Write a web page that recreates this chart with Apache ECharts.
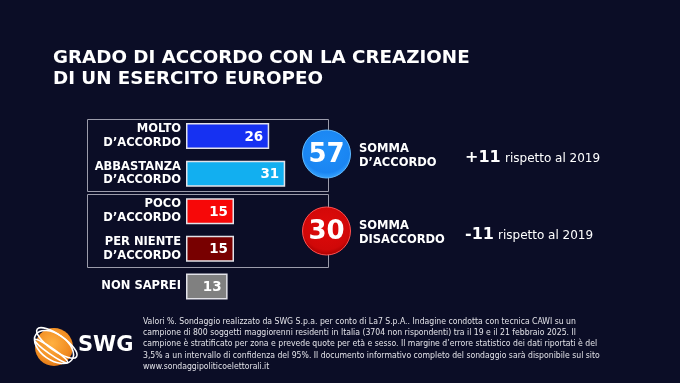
<!DOCTYPE html>
<html><head><meta charset="utf-8">
<script src="https://cdn.jsdelivr.net/npm/echarts@6/dist/echarts.min.js"></script>
<style>html,body{margin:0;padding:0;background:#0b0d26;}#c{width:680px;height:383px;}</style>
</head><body><div id="c"></div>
<script>
const titleLines = ['GRADO DI ACCORDO CON LA CREAZIONE', 'DI UN ESERCITO EUROPEO'];
const categories = ['MOLTO\nD’ACCORDO', 'ABBASTANZA\nD’ACCORDO', 'POCO\nD’ACCORDO', 'PER NIENTE\nD’ACCORDO', 'NON SAPREI'];
const values = [26, 31, 15, 15, 13];
const sumLabels = ['SOMMA\nD’ACCORDO', 'SOMMA\nDISACCORDO'];
const sums = [57, 30];
const changes = ['+11', '-11'];
const changeNote = 'rispetto al 2019';
const footerLines = [
  'Valori %. Sondaggio realizzato da SWG S.p.a. per conto di La7 S.p.A.. Indagine condotta con tecnica CAWI su un',
  'campione di 800 soggetti maggiorenni residenti in Italia (3704 non rispondenti) tra il 19 e il 21 febbraio 2025. Il',
  'campione è stratificato per zona e prevede quote per età e sesso. Il margine d’errore statistico dei dati riportati è del',
  '3,5% a un intervallo di confidenza del 95%. Il documento informativo completo del sondaggio sarà disponibile sul sito',
  'www.sondaggipoliticoelettorali.it'
];

const barColors = ['#1631f2', '#12aff0', '#f70808', '#780000', '#808080'];
const F = '"DejaVu Sans", Verdana, sans-serif';

const chart = echarts.init(document.getElementById('c'));
const graphic = [];
// title
titleLines.forEach((t, i) => graphic.push({type:'text', left:53, top:49 + i*21.5, style:{text:t, fill:'#ffffff', font:'bold 18.3px ' + F}}));
// boxes
graphic.push({type:'rect', shape:{x:87.5, y:119.5, width:241, height:72}, style:{fill:'none', stroke:'#9c9cab', lineWidth:1}});
graphic.push({type:'rect', shape:{x:87.5, y:194.5, width:241, height:73}, style:{fill:'none', stroke:'#9c9cab', lineWidth:1}});
// sum circles and texts
const circleY = [154, 231];
const grads = [
  {type:'radial', x:0.5, y:0.4, r:0.6, colorStops:[{offset:0, color:'#1f8ff8'}, {offset:0.8, color:'#1a85f2'}, {offset:1, color:'#3aa6ff'}]},
  {type:'radial', x:0.5, y:0.4, r:0.6, colorStops:[{offset:0, color:'#e00a0a'}, {offset:0.8, color:'#d00808'}, {offset:1, color:'#a80000'}]}
];
const strokes = ['#5db8ff', '#ff5050'];
sums.forEach((s, i) => {
  graphic.push({type:'circle', shape:{cx:326.5, cy:circleY[i], r:24}, style:{fill:grads[i], stroke:strokes[i], lineWidth:1}});
  graphic.push({type:'text', x:326.5, y:circleY[i]+1, style:{text:String(s), fill:'#ffffff', font:'bold 26px ' + F, align:'center', verticalAlign:'middle'}});
  graphic.push({type:'text', x:359, y:circleY[i]+2, style:{text:sumLabels[i], fill:'#ffffff', font:'bold 11.5px ' + F, lineHeight:14, verticalAlign:'middle'}});
  graphic.push({type:'text', x:465, y:circleY[i]+4, style:{text:changes[i], fill:'#ffffff', font:'bold 16px ' + F, verticalAlign:'middle'}});
  graphic.push({type:'text', x:[505, 498][i], y:circleY[i]+5, style:{text:changeNote, fill:'#ffffff', font:'12px ' + F, verticalAlign:'middle'}});
});
// logo
graphic.push({type:'circle', shape:{cx:54, cy:347, r:19}, style:{fill:{type:'radial', x:0.45, y:0.4, r:0.7, colorStops:[{offset:0, color:'#ffb040'}, {offset:0.7, color:'#f08a20'}, {offset:1, color:'#d86a10'}]}}});
[[-35, 24, 8], [-35, 22, 13], [-35, 20, 3]].forEach(([rot, rx, ry], k) => {
  graphic.push({type:'ellipse', x:54, y:347, rotation:rot*Math.PI/180, shape:{cx:0, cy:(k-1)*5, rx:rx, ry:ry}, style:{fill:'none', stroke:'#ffffff', lineWidth:1.6}});
});
graphic.push({type:'text', left:78, top:335, style:{text:'SWG', fill:'#ffffff', font:'bold 21px ' + F}});
footerLines.forEach((t, i) => graphic.push({type:'text', left:143, top:317 + i*11.3, style:{text:t, fill:'#e2e2e8', font:'8.6px "DejaVu Sans Condensed", ' + F}}));

chart.setOption({
  backgroundColor:'#0b0d26',
  animation:false,
  grid:{left:186, top:117.25, width:320, height:188},
  xAxis:{type:'value', min:0, max:100, show:false},
  yAxis:{type:'category', inverse:true, data:categories,
    axisLine:{show:false}, axisTick:{show:false},
    axisLabel:{color:'#ffffff', fontFamily:F, fontWeight:'bold', fontSize:11.5, lineHeight:13.5, margin:5, align:'right'}},
  series:[{type:'bar', barWidth:26,
    data: values.map((v, i) => ({value:v, itemStyle:{color:barColors[i]}})),
    itemStyle:{borderColor:'#e2e2e8', borderWidth:1.5},
    label:{show:true, position:'insideRight', offset:[-1,1], color:'#ffffff', fontFamily:F, fontWeight:'bold', fontSize:13.5}
  }],
  graphic: graphic
});
</script></body></html>
